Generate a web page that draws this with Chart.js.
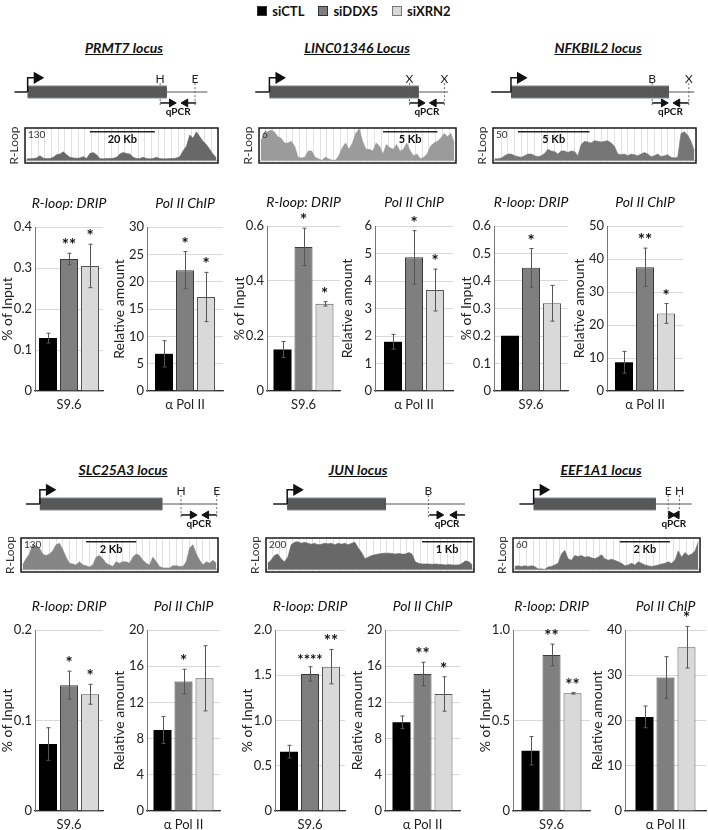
<!DOCTYPE html>
<html><head><meta charset="utf-8">
<script src="https://cdn.jsdelivr.net/npm/chart.js@4"></script>
<style>
html,body{margin:0;padding:0;background:#fff;}
#fig{position:relative;width:708px;height:830px;overflow:hidden;font-family:Lato,"Open Sans",sans-serif;color:#111;}
canvas{position:absolute;}
.ltitle{position:absolute;font-weight:bold;font-style:italic;text-decoration:underline;font-size:14px;white-space:nowrap;transform:translate(-50%,-50%);line-height:16px;}
#legend{position:absolute;left:0;top:3px;width:708px;text-align:center;font-weight:bold;font-size:13px;line-height:16px;}
.sw{display:inline-block;width:8px;height:8px;margin:0 5px 0 14px;vertical-align:0px;border:1px solid #333;}
.sw.first{margin-left:0;}
</style>
</head><body>
<div id="fig">
  <div id="legend"><span class="sw first" style="background:#000"></span>siCTL<span class="sw" style="background:#7f7f7f"></span>siDDX5<span class="sw" style="background:#d9d9d9;border-color:#777"></span>siXRN2</div>
</div>
<script>
// ---------------- DATA ----------------
const seriesNames = ['siCTL', 'siDDX5', 'siXRN2'];
const locusNames = ['PRMT7 locus', 'LINC01346 Locus', 'NFKBIL2 locus', 'SLC25A3 locus', 'JUN locus', 'EEF1A1 locus'];
const assayTitles = ['R-loop: DRIP', 'Pol II ChIP'];
const antibodyLabels = ['S9.6', 'α Pol II'];
const yAxisTitles = ['% of Input', 'Relative amount'];

// 12 panels: PRMT7 DRIP, PRMT7 PolII, LINC DRIP, LINC PolII, NFKBIL2 DRIP, NFKBIL2 PolII,
//            SLC25A3 DRIP, SLC25A3 PolII, JUN DRIP, JUN PolII, EEF1A1 DRIP, EEF1A1 PolII
const siCTL  = [0.129, 6.8, 0.151, 1.79, 0.201, 8.7, 0.074, 8.95, 0.656, 9.8, 0.333, 20.8];
const siDDX5 = [0.322, 22.1, 0.524, 4.86, 0.448, 37.5, 0.139, 14.3, 1.514, 15.14, 0.862, 29.5];
const siXRN2 = [0.305, 17.2, 0.317, 3.67, 0.319, 23.5, 0.129, 14.66, 1.595, 12.93, 0.65, 36.2];
const errCTL  = [0.012, 2.4, 0.029, 0.27, 0, 3.3, 0.018, 1.5, 0.07, 0.7, 0.078, 2.4];
const errDDX5 = [0.014, 3.4, 0.068, 0.97, 0.07, 5.8, 0.0155, 1.36, 0.08, 1.3, 0.06, 4.6];
const errXRN2 = [0.053, 4.5, 0.008, 0.76, 0.065, 3.0, 0.011, 3.6, 0.19, 1.9, 0.004, 4.6];
const sigCTL  = ['', '', '', '', '', '', '', '', '', '', '', ''];
const sigDDX5 = ['**', '*', '*', '*', '*', '**', '*', '*', '****', '**', '**', ''];
const sigXRN2 = ['*', '*', '*', '*', '', '*', '*', '', '**', '*', '**', '*'];
const yTickLabels = [
  ['0', '0.1', '0.2', '0.3', '0.4'],
  ['0', '5', '10', '15', '20', '25', '30'],
  ['0', '0.2', '0.4', '0.6'],
  ['0', '1', '2', '3', '4', '5', '6'],
  ['0', '0.1', '0.2', '0.3', '0.4', '0.5', '0.6'],
  ['0', '10', '20', '30', '40', '50'],
  ['0', '0.1', '0.2'],
  ['0', '4', '8', '12', '16', '20'],
  ['0', '0.5', '1.0', '1.5', '2.0'],
  ['0', '4', '8', '12', '16', '20'],
  ['0', '0.5', '1.0'],
  ['0', '10', '20', '30', '40']
];

// locus schematics (relative position along each locus panel, 0-100)
const geneLine = [[3.4, 90.3], [5.5, 92.4], [5.5, 97], [8.5, 94.5], [13.6, 100], [18.2, 95.8]];
const geneBody = [[9.3, 72], [11.9, 79.2], [14.4, 85.6], [14.8, 70], [19.9, 64.4], [24.6, 79.7]];
const siteLabels = [['H', 'E'], ['X', 'X'], ['B', 'X'], ['H', 'E'], ['B'], ['E', 'H']];
const sitePos = [[69, 84.7], [75, 90.7], [78, 94.5], [78.4, 94.5], [83.5], [85.2, 90.3]];
// forward primer: start, head ; reverse primer: start, head
const primers = [[69, 74.2], [75, 80], [78, 83.2], [78.4, 83.6], [83.9, 88.4], [85.2, 86.4]];
const primersRev = [[85.2, 80.4], [90.7, 86], [94.5, 89.4], [94.5, 89.8], [100, 95.2], [90.3, 89.1]];

// R-loop tracks (fraction of track maximum)
const trackPRMT7 = [0.05,0.05,0.06,0.08,0.15,0.07,0.06,0.06,0.1,0.18,0.2,0.27,0.18,0.1,0.08,0.07,0.08,0.12,0.06,0.22,0.25,0.18,0.06,0.05,0.06,0.06,0.07,0.1,0.2,0.25,0.22,0.2,0.1,0.06,0.06,0.1,0.06,0.05,0.06,0.1,0.06,0.05,0.05,0.06,0.06,0.08,0.12,0.3,0.45,0.8,0.7,0.9,0.75,0.6,0.5,0.35,0.2,0.08];
const trackLINC01346 = [0.6,0.85,0.9,0.95,0.9,0.75,0.7,0.55,0.55,0.6,0.45,0.1,0.08,0.1,0.3,0.3,0.1,0.05,0,0.1,0.05,0,0,0.15,0.4,0.55,0.35,0.55,0.85,1.0,0.6,0.35,0.35,0.3,0.55,0.45,0.2,0.5,0.4,0.35,0.5,0.3,0.35,0.55,0.3,0.15,0.2,0.05,0.1,0.2,0.45,0.55,0.6,0.7,0.85,0.75,0.85,0.55];
const trackNFKBIL2 = [0.05,0.05,0.08,0.15,0.2,0.2,0.15,0.12,0.1,0.15,0.2,0.2,0.15,0.12,0.15,0.22,0.35,0.3,0.28,0.2,0.3,0.3,0.25,0.3,0.28,0.15,0.5,0.6,0.58,0.55,0.62,0.6,0.58,0.6,0.62,0.55,0.45,0.2,0.18,0.2,0.15,0.2,0.18,0.15,0.2,0.25,0.2,0.12,0.15,0.2,0.12,0.15,0.18,0.1,0.08,0.1,0.85,0.9,0.8,0.6,0.3];
const trackSLC25A3 = [0.15,0.35,0.5,0.8,0.75,0.7,0.5,0.45,0.5,0.6,0.8,0.85,0.65,0.4,0.2,0.18,0.15,0.25,0.15,0.12,0.08,0.15,0.4,0.45,0.35,0.2,0.15,0.1,0.25,0.2,0.25,0.25,0.2,0.4,0.5,0.45,0.3,0.2,0.15,0.4,0.25,0.1,0.05,0.05,0.05,0.12,0.12,0.1,0.1,0.25,0.7,0.8,0.5,0.3,0.15,0.25,0.2,0.3,0.2];
const trackJUN = [0.2,0.3,0.45,0.5,0.35,0.25,0.4,0.8,0.88,0.9,0.85,0.88,0.85,0.82,0.85,0.8,0.82,0.85,0.83,0.85,0.8,0.85,0.82,0.85,0.8,0.85,0.88,0.7,0.55,0.35,0.4,0.45,0.48,0.5,0.52,0.53,0.53,0.52,0.5,0.52,0.5,0.5,0.55,0.5,0.25,0.2,0.18,0.18,0.18,0.17,0.18,0.17,0.16,0.15,0.16,0.15,0.15,0.15,0.2,0.28,0.25,0.15];
const trackEEF1A1 = [0.1,0.12,0.1,0.12,0.1,0.12,0.1,0.02,0.02,0,0.08,0.1,0.15,0.2,0.5,0.62,0.35,0.3,0.45,0.42,0.45,0.4,0.42,0.38,0.35,0.4,0.48,0.35,0.3,0.33,0.3,0.25,0.2,0.12,0.15,0.2,0.15,0.25,0.2,0.15,0.12,0.1,0.12,0.15,0.18,0.2,0.25,0.2,0.3,0.6,0.4,0.55,0.45,0.5,0.6,0.9];
const trackMaxLabels = ['130', '6', '50', '130', '200', '60'];
const scaleBarLabels = ['20 Kb', '5 Kb', '5 Kb', '2 Kb', '1 Kb', '2 Kb'];
const scaleBarRange = [[19, 38.5], [36, 52], [7, 28.5], [19, 34], [46, 61], [31.5, 46.5]];

// ---------------- LAYOUT / STYLE ----------------
const F = 'Lato, "Open Sans", sans-serif';
Chart.defaults.font.family = F;
const fig = document.getElementById('fig');
const tracks = [trackPRMT7, trackLINC01346, trackNFKBIL2, trackSLC25A3, trackJUN, trackEEF1A1];
const trackColors = ['#686868', '#9b9b9b', '#767676', '#858585', '#686868', '#6e6e6e'];
const seriesVals = [siCTL, siDDX5, siXRN2];
const seriesErr = [errCTL, errDDX5, errXRN2];
const seriesSig = [sigCTL, sigDDX5, sigXRN2];
const barFill = ['#000000', '#7f7f7f', '#d9d9d9'];
const barEdge = ['#000000', '#3a3a3a', '#555555'];

const panelBox = [
  {ax: 35, right: 103, top: 227, zero: 391}, {ax: 147, right: 223, top: 227, zero: 391},
  {ax: 267, right: 340, top: 226, zero: 391}, {ax: 375, right: 453, top: 226, zero: 391},
  {ax: 494, right: 568, top: 226, zero: 391}, {ax: 607, right: 683, top: 226, zero: 391},
  {ax: 35, right: 103, top: 630, zero: 811}, {ax: 147, right: 220, top: 630, zero: 811},
  {ax: 275, right: 345, top: 630, zero: 811}, {ax: 385, right: 460, top: 630, zero: 811},
  {ax: 513, right: 590, top: 630, zero: 811}, {ax: 625, right: 706, top: 630, zero: 811}
];
const titleCenters = [[124, 48], [357, 48], [598, 48], [123, 470], [358, 470], [601, 470]];
const colLeft = [0, 236, 472];
const geneRowY = [92, 504];
const trackBox = [
  {l: 25, r: 218, t: 128, b: 163}, {l: 259, r: 456, t: 128, b: 163}, {l: 493, r: 696, t: 128, b: 163},
  {l: 21, r: 218, t: 538, b: 572}, {l: 266, r: 474, t: 538, b: 572}, {l: 513, r: 700, t: 538, b: 572}
];

function addCanvas(left, top, w, h) {
  const c = document.createElement('canvas');
  c.width = w; c.height = h;
  c.style.left = left + 'px'; c.style.top = top + 'px';
  c.style.width = w + 'px'; c.style.height = h + 'px';
  fig.appendChild(c);
  return c;
}

// locus titles
locusNames.forEach((n, j) => {
  const d = document.createElement('div');
  d.className = 'ltitle'; d.textContent = n;
  d.style.left = titleCenters[j][0] + 'px'; d.style.top = titleCenters[j][1] + 'px';
  fig.appendChild(d);
});

// ---------- locus schematics ----------
function makeLocus(j) {
  const col = j % 3, row = Math.floor(j / 3);
  const gy = geneRowY[row];
  const cv = addCanvas(colLeft[col], gy - 60, 236, 120);
  const gl = geneLine[j], gb = geneBody[j], fw = primers[j], rv = primersRev[j];
  const ds = [];
  const L = (pts, extra) => Object.assign({data: pts.map(p => ({x: p[0], y: p[1]})), borderWidth: 1.5, borderColor: '#111', pointRadius: 0, fill: false, tension: 0}, extra || {});
  const head = (rot, r) => ({pointRadius: [0, r], pointStyle: 'triangle', pointRotation: rot, pointBackgroundColor: '#111', pointBorderColor: '#111', pointBorderWidth: 1});
  // topmost first
  sitePos[j].forEach(s => ds.push(L([[s, 0.5], [s, -0.75]], {borderWidth: 1, borderColor: '#666', borderDash: [2, 2]})));
  ds.push(L([[fw[0], -0.62], [fw[1], -0.62]], head(90, 4.5)));
  ds.push(L([[rv[0], -0.62], [rv[1], -0.62]], head(-90, 4.5)));
  ds.push(L([[gb[0], 0], [gb[0], 0.8], [gb[0] + 4.3, 0.8]], {pointRadius: [0, 0, 5.5], pointStyle: 'triangle', pointRotation: 90, pointBackgroundColor: '#111', pointBorderColor: '#111'}));
  ds.push(L([[gb[0], 0], [gb[1], 0]], {borderWidth: 11, borderColor: '#575757', borderCapStyle: 'butt'}));
  ds.push(L([[gb[0], 0], [gb[1], 0]], {borderWidth: 13, borderColor: '#7d8a98', borderCapStyle: 'butt'}));
  ds.push(L([[gl[0], 0], [gb[0], 0]], {borderColor: '#1a1a1a'}));
  ds.push(L([[gb[1], 0], [gl[1], 0]], {borderColor: '#8c8c8c'}));
  new Chart(cv, {
    type: 'line',
    data: {datasets: ds},
    options: {
      responsive: false, animation: false, events: [],
      layout: {padding: 0},
      plugins: {legend: {display: false}, tooltip: {enabled: false}},
      scales: {x: {type: 'linear', min: 0, max: 100, display: false}, y: {type: 'linear', min: -3, max: 3, display: false}}
    },
    plugins: [{
      id: 'locusText',
      afterDatasetsDraw(chart) {
        const {ctx, scales: {x, y}} = chart;
        ctx.save();
        ctx.fillStyle = '#222'; ctx.textAlign = 'center'; ctx.textBaseline = 'middle';
        ctx.font = '12px ' + F;
        sitePos[j].forEach((s, k) => ctx.fillText(siteLabels[j][k], x.getPixelForValue(s), y.getPixelForValue(0.75)));
        ctx.font = 'bold 10px ' + F; ctx.fillStyle = '#111';
        ctx.fillText('qPCR', x.getPixelForValue((fw[0] + rv[0]) / 2), y.getPixelForValue(-1.1));
        ctx.restore();
      }
    }]
  });
}

// ---------- R-loop tracks ----------
function makeTrack(j) {
  const b = trackBox[j];
  const AXW = 18;
  const cv = addCanvas(b.l - AXW, b.t - 1, (b.r - b.l) + AXW + 1, (b.b - b.t) + 2);
  const prof = tracks[j];
  const n = prof.length;
  const sb = scaleBarRange[j];
  new Chart(cv, {
    type: 'line',
    data: {datasets: [
      {data: [{x: sb[0], y: 0.9}, {x: sb[1], y: 0.9}], borderColor: '#222', borderWidth: 1.5, pointRadius: 0, fill: false},
      {data: prof.map((v, i) => ({x: i, y: v})), borderColor: trackColors[j], borderWidth: 0.6, backgroundColor: trackColors[j], fill: 'origin', pointRadius: 0, tension: 0},
      {data: [{x: -0.5, y: 0}, {x: n - 0.5, y: 0}], borderColor: '#c4c4c4', borderWidth: 1.5, pointRadius: 0, fill: false}
    ]},
    options: {
      responsive: false, animation: false, events: [],
      layout: {padding: {left: 0, top: 1, right: 1, bottom: 1}},
      plugins: {legend: {display: false}, tooltip: {enabled: false}},
      scales: {
        x: {type: 'linear', min: -0.5, max: n - 0.5, ticks: {display: false, stepSize: 2}, grid: {color: '#e2e2e2', drawTicks: false}, border: {display: false}, afterFit(s) { s.height = 0; }},
        y: {type: 'linear', min: -0.08, max: 1.02, ticks: {display: false}, grid: {display: false, drawTicks: false}, border: {display: false},
            title: {display: true, text: 'R-Loop', font: {size: 12, family: F}, color: '#333', padding: 0}, afterFit(s) { s.width = AXW; }}
      }
    },
    plugins: [{
      id: 'trackDeco',
      afterDraw(chart) {
        const {ctx, chartArea: a, scales: {x, y}} = chart;
        ctx.save();
        ctx.strokeStyle = '#1a1a1a'; ctx.lineWidth = 1.5;
        ctx.strokeRect(a.left, a.top, a.right - a.left, a.bottom - a.top);
        ctx.fillStyle = '#333'; ctx.font = '10px ' + F; ctx.textAlign = 'left'; ctx.textBaseline = 'top';
        ctx.fillText(trackMaxLabels[j], a.left + 3, a.top + 2);
        ctx.fillStyle = '#111'; ctx.font = 'bold 11px ' + F; ctx.textAlign = 'center'; ctx.textBaseline = 'middle';
        ctx.fillText(scaleBarLabels[j], x.getPixelForValue((sb[0] + sb[1]) / 2), y.getPixelForValue(0.66));
        ctx.restore();
      }
    }]
  });
}

// ---------- bar panels ----------
function makeBars(i) {
  const b = panelBox[i];
  const W = b.right - b.ax, H = b.zero - b.top;
  const PADT = 40, AXW = 40, XH = 24, PADR = 4;
  const cv = addCanvas(b.ax - AXW, b.top - PADT, AXW + W + PADR, PADT + H + XH);
  const kind = i % 2;
  const tl = yTickLabels[i];
  const tv = tl.map(Number);
  new Chart(cv, {
    type: 'bar',
    data: {
      labels: [antibodyLabels[kind]],
      datasets: seriesNames.map((s, k) => ({
        label: s, data: [seriesVals[k][i]],
        backgroundColor: barFill[k], borderColor: barEdge[k], borderWidth: k ? 1 : 0,
        categoryPercentage: Math.min(1, 63 / W), barPercentage: 18 / 21
      }))
    },
    options: {
      responsive: false, animation: false, events: [],
      layout: {padding: {top: PADT, right: PADR, left: 0, bottom: 0}},
      plugins: {legend: {display: false}, tooltip: {enabled: false}, title: {display: false}},
      scales: {
        x: {grid: {display: false, drawTicks: false}, border: {display: true, color: '#333', width: 1.2},
            ticks: {padding: 6, font: {size: 13, family: F}, color: '#222'}, afterFit(s) { s.height = XH; }},
        y: {min: 0, max: tv[tv.length - 1],
            afterBuildTicks(s) { s.ticks = tv.map(v => ({value: v})); },
            ticks: {callback: (v, idx) => tl[idx], padding: 3, font: {size: 13, family: F}, color: '#222'},
            grid: {color: '#d9d9d9', drawTicks: false}, border: {display: true, color: '#777'},
            title: {display: true, text: yAxisTitles[kind], font: {size: 14, family: F}, color: '#222', padding: {top: 4, bottom: 0}},
            afterFit(s) { s.width = AXW; }}
      }
    },
    plugins: [{
      id: 'errAndTitle',
      afterDatasetsDraw(chart) {
        const {ctx, chartArea: a, scales: {y}} = chart;
        ctx.save();
        seriesNames.forEach((s, k) => {
          const bar = chart.getDatasetMeta(k).data[0];
          const v = seriesVals[k][i], e = seriesErr[k][i];
          const yT = y.getPixelForValue(v + e), yB = y.getPixelForValue(v - e);
          if (e > 0) {
            ctx.strokeStyle = '#555'; ctx.lineWidth = 1;
            const bx = Math.round(bar.x) + 0.5;
            ctx.beginPath();
            ctx.moveTo(bx, yT); ctx.lineTo(bx, yB);
            ctx.moveTo(bx - 2, yT); ctx.lineTo(bx + 2, yT);
            ctx.moveTo(bx - 2, yB); ctx.lineTo(bx + 2, yB);
            ctx.stroke();
          }
          const sg = seriesSig[k][i];
          if (sg) {
            ctx.fillStyle = '#111'; ctx.font = 'bold ' + (sg.length > 2 ? '15px ' : '17px ') + F;
            ctx.textAlign = 'center'; ctx.textBaseline = 'alphabetic';
            ctx.fillText(sg, bar.x, yT - 2);
          }
        });
        ctx.fillStyle = '#111'; ctx.font = 'italic 14px ' + F; ctx.textAlign = 'center'; ctx.textBaseline = 'middle';
        ctx.fillText(assayTitles[kind], (a.left + a.right) / 2, a.top - 24);
        ctx.restore();
      }
    }]
  });
}

for (let j = 0; j < 6; j++) { makeLocus(j); makeTrack(j); }
for (let i = 0; i < 12; i++) makeBars(i);
</script>
</body></html>
